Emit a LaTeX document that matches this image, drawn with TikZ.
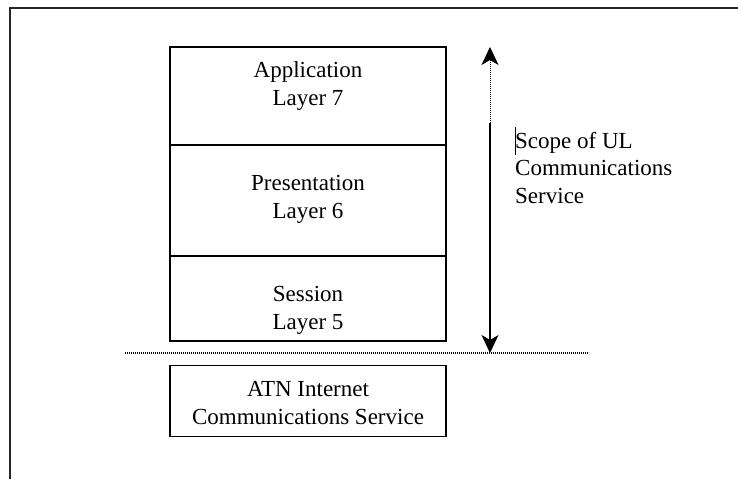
\documentclass[tikz,border=0pt]{standalone}
\usepackage{fontspec}
\setmainfont{Liberation Serif}
\usetikzlibrary{arrows.meta}
\begin{document}
\begin{tikzpicture}[x=1pt,y=-1pt,
  layerbox/.style={draw, line width=1.6pt, minimum width=276pt, inner sep=0pt},
  lbl/.style={font=\fontsize{23}{27.5}\selectfont, align=center, anchor=base, inner sep=0pt},
  frameline/.style={line width=1.3pt, draw=black!85},
  scopearrow/.style={line width=1.2pt, -{Stealth[length=18pt,width=17pt,inset=5pt]}}
]
\useasboundingbox (0,0) rectangle (738,479);
% frame
\coordinate (fTL) at (10,8);
\coordinate (fTR) at (738,8);
\coordinate (fBL) at (10,479);
\draw[frameline] (fTR) -- (fTL) -- (fBL);
% layer boxes
\node[layerbox, minimum height=98pt] (app) at (308,96) {};
\node[layerbox, minimum height=111pt] (pres) at (308,200.5) {};
\node[layerbox, minimum height=85pt] (sess) at (308,298.5) {};
\node[layerbox, minimum height=71pt] (atn) at (308,401) {};
% texts (base anchor = last line baseline)
\node[lbl] (tapp) at (308,105) {Application\\Layer 7};
\node[lbl] (tpres) at (308,218) {Presentation\\Layer 6};
\node[lbl] (tsess) at (308,329) {Session\\Layer 5};
\node[lbl] (tatn) at (308,424) {ATN Internet\\Communications Service};
\node[lbl, align=left, anchor=base west] (tscope) at (515,203) {Scope of UL\\Communications\\Service};
% dotted boundary
\coordinate (dL) at (125,353);
\coordinate (dR) at (589,353);
\draw[line width=1.2pt, dash pattern=on 1.2pt off 0.8pt] (dL) -- (dR);
% scope arrow
\coordinate (atop) at (490,47);
\coordinate (amid) at (490,123);
\coordinate (abot) at (490,353);
\draw[scopearrow] (amid) -- (abot);
\draw[scopearrow, line width=0.8pt, dash pattern=on 1pt off 1pt] (amid) -- (atop);
% cursor bar
\coordinate (cT) at (515.5,127);
\coordinate (cB) at (515.5,155);
\draw[line width=0.8pt] (cT) -- (cB);
\end{tikzpicture}
\end{document}
